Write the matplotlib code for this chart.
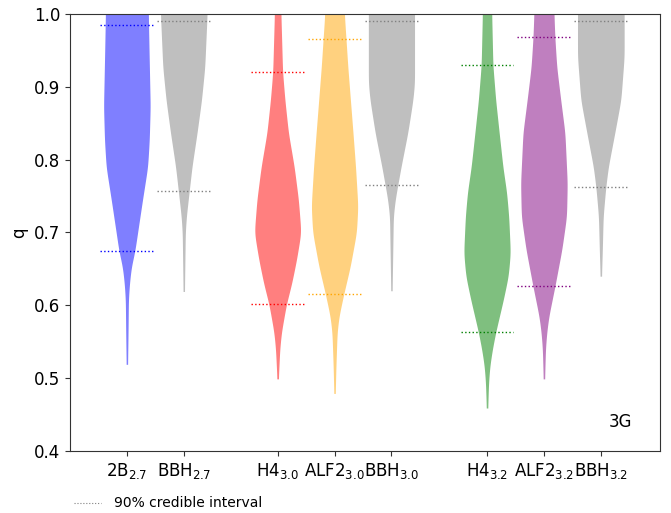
import numpy as np
import matplotlib
matplotlib.use("Agg")
import matplotlib.pyplot as plt
from matplotlib.lines import Line2D

# labels, colours and where each violin sits
labels = [r"2B$_{2.7}$", r"BBH$_{2.7}$",
          r"H4$_{3.0}$", r"ALF2$_{3.0}$", r"BBH$_{3.0}$",
          r"H4$_{3.2}$", r"ALF2$_{3.2}$", r"BBH$_{3.2}$"]
colors = ["blue", "gray", "red", "orange", "gray", "green", "purple", "gray"]
positions = [1, 2, 3.65, 4.65, 5.65, 7.33, 8.33, 9.33]

# density profiles (q, relative density)
q_2b27 = [0.519, 0.563, 0.608, 0.63, 0.653, 0.674, 0.70, 0.745, 0.79, 0.827, 0.873, 0.95, 1.0]
d_2b27 = [0.03, 0.05, 0.065, 0.11, 0.19, 0.34, 0.46, 0.67, 0.89, 0.96, 1.0, 0.95, 0.92]

q_bbh27 = [0.619, 0.70, 0.722, 0.756, 0.79, 0.837, 0.882, 0.927, 1.0]
d_bbh27 = [0.03, 0.065, 0.11, 0.23, 0.35, 0.57, 0.76, 0.90, 1.0]

q_h430 = [0.499, 0.54, 0.563, 0.601, 0.63, 0.663, 0.70, 0.745, 0.79, 0.837, 0.882, 0.921, 1.0]
d_h430 = [0.03, 0.09, 0.16, 0.37, 0.60, 0.81, 1.0, 0.89, 0.71, 0.46, 0.31, 0.21, 0.14]

q_alf30 = [0.479, 0.517, 0.563, 0.585, 0.615, 0.653, 0.70, 0.736, 0.79, 0.837, 0.882, 0.927, 0.966, 1.0]
d_alf30 = [0.03, 0.06, 0.11, 0.19, 0.39, 0.67, 0.94, 1.0, 0.90, 0.79, 0.68, 0.57, 0.49, 0.42]

q_bbh30 = [0.62, 0.722, 0.745, 0.765, 0.79, 0.837, 0.882, 0.905, 1.0]
d_bbh30 = [0.03, 0.08, 0.16, 0.27, 0.41, 0.70, 0.92, 0.99, 0.99]

q_h432 = [0.459, 0.494, 0.517, 0.54, 0.563, 0.608, 0.64, 0.672, 0.722, 0.755, 0.79, 0.837, 0.882, 0.930, 1.0]
d_h432 = [0.03, 0.065, 0.12, 0.23, 0.37, 0.70, 0.91, 1.0, 0.93, 0.84, 0.68, 0.52, 0.37, 0.25, 0.20]

q_alf32 = [0.499, 0.54, 0.563, 0.585, 0.626, 0.677, 0.722, 0.768, 0.837, 0.882, 0.927, 0.967, 1.0]
d_alf32 = [0.03, 0.065, 0.12, 0.21, 0.47, 0.77, 0.97, 1.0, 0.90, 0.72, 0.55, 0.47, 0.43]

q_bbh32 = [0.64, 0.677, 0.722, 0.762, 0.79, 0.837, 0.882, 0.941, 1.0]
d_bbh32 = [0.03, 0.065, 0.10, 0.21, 0.32, 0.60, 0.86, 1.0, 1.0]

profiles = [(q_2b27, d_2b27), (q_bbh27, d_bbh27),
            (q_h430, d_h430), (q_alf30, d_alf30), (q_bbh30, d_bbh30),
            (q_h432, d_h432), (q_alf32, d_alf32), (q_bbh32, d_bbh32)]

# 90% credible intervals (lower, upper)
ci_low = [0.674, 0.757, 0.602, 0.615, 0.765, 0.564, 0.626, 0.762]
ci_high = [0.985, 0.991, 0.921, 0.966, 0.991, 0.930, 0.968, 0.991]


def smooth_profile(q, d, n=500, sigma=0.008):
    # resample the read-off outline and round off the corners
    qq = np.linspace(q[0], q[-1], n)
    dd = np.interp(qq, q, d)
    step = qq[1] - qq[0]
    k = int(3 * sigma / step)
    x = np.arange(-k, k + 1) * step
    kern = np.exp(-0.5 * (x / sigma) ** 2)
    kern /= kern.sum()
    padded = np.concatenate([np.full(k, dd[0]), dd, np.full(k, dd[-1])])
    dd = np.convolve(padded, kern, mode="valid")
    return qq, dd


plt.rcParams["axes.edgecolor"] = "#333333"
plt.rcParams["xtick.color"] = "#333333"
plt.rcParams["ytick.color"] = "#333333"
plt.rcParams["xtick.labelcolor"] = "black"
plt.rcParams["ytick.labelcolor"] = "black"

fig = plt.figure(figsize=(6.71, 5.13), dpi=100)
ax = fig.add_axes([0.1043, 0.1209, 0.8793, 0.8518])

half = 0.41   # max half width of a violin
for pos, (q, d), c, lo, hi in zip(positions, profiles, colors, ci_low, ci_high):
    qq, dd = smooth_profile(np.asarray(q), np.asarray(d))
    ax.fill_betweenx(qq, pos - half * dd, pos + half * dd, color=c, alpha=0.5, lw=0)
    ax.hlines([lo, hi], pos - 0.465, pos + 0.465, colors=c, linestyles=":", lw=1)

ax.set_xticks(positions)
ax.set_xticklabels(labels, fontsize=12)
ax.set_xlim(0, 10.37)
ax.set_ylim(0.4, 1.0)
ax.tick_params(axis="y", labelsize=12)
ax.set_ylabel("q", fontsize=12)
ax.text(0.953, 0.066, "3G", transform=ax.transAxes, ha="right", va="center", fontsize=12)

handle = Line2D([], [], color="gray", ls=":", lw=0.8)
ax.legend([handle], ["90% credible interval"], loc="center left",
          bbox_to_anchor=(-0.015, -0.12), frameon=False, fontsize=10,
          handlelength=1.95, handletextpad=0.95)

fig.savefig("out.png", dpi=100)
